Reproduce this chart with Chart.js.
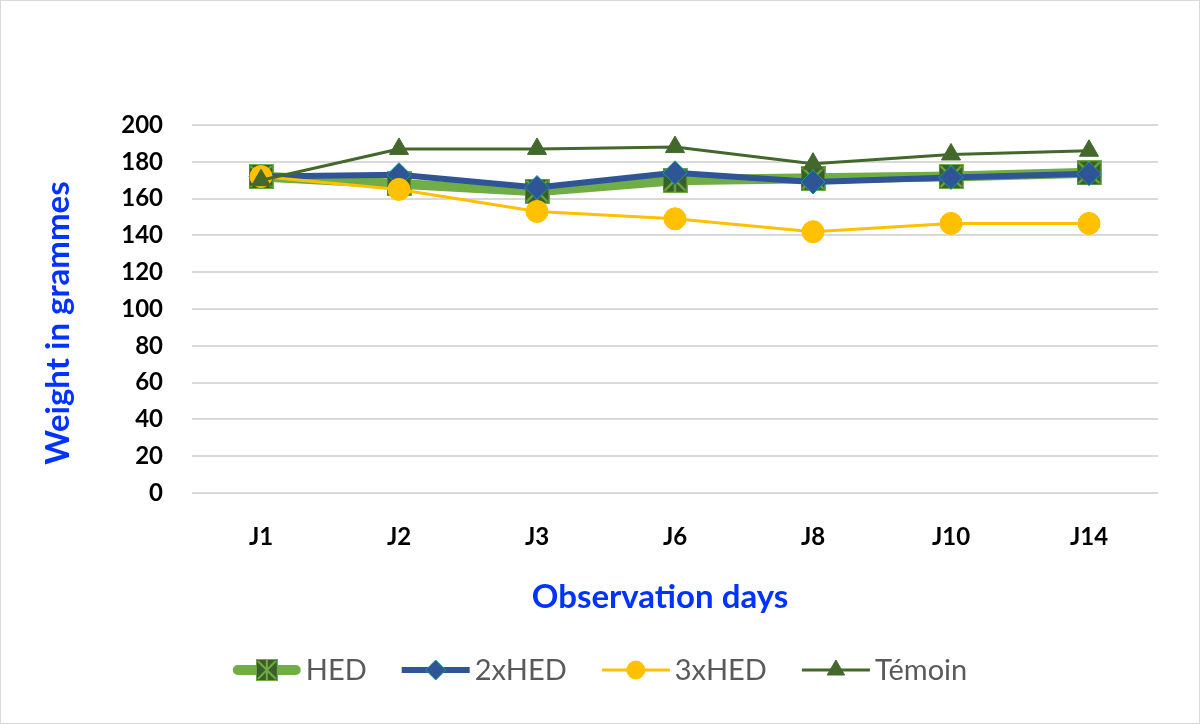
<!DOCTYPE html>
<html>
<head>
<meta charset="utf-8">
<script src="https://cdn.jsdelivr.net/npm/chart.js@4.4.1/dist/chart.umd.min.js"></script>
<style>
  html, body { margin: 0; padding: 0; background: #fff; }
  canvas { display: block; }
</style>
</head>
<body>
<canvas id="weight-chart" width="1200" height="724"></canvas>
<script>
// data
const days   = ['J1', 'J2', 'J3', 'J6', 'J8', 'J10', 'J14'];
const hed    = [172, 168, 164, 170, 171, 172, 174];
const hed2x  = [172, 173, 166, 174, 169, 171.5, 173.5];
const hed3x  = [172, 165, 153, 149, 142, 146.5, 146.5];
const temoin = [170, 187, 187, 188, 179, 184, 186];
const yTicks = [0, 20, 40, 60, 80, 100, 120, 140, 160, 180, 200];

const xTitle = 'Observation days';
const yTitle = 'Weight in grammes';
const TITLE_BLUE = '#0033ff';

// square marker with an asterisk, like the Excel "star" marker
function starMarker(size) {
  const c = document.createElement('canvas');
  c.width = size; c.height = size;
  const g = c.getContext('2d');
  g.fillStyle = '#3b5e26';
  g.fillRect(0, 0, size, size);
  g.strokeStyle = '#70ad47';
  g.lineWidth = 1;
  g.strokeRect(0.5, 0.5, size - 1, size - 1);
  g.lineWidth = 2;
  g.beginPath();
  g.moveTo(2, 2); g.lineTo(size - 2, size - 2);
  g.moveTo(size - 2, 2); g.lineTo(2, size - 2);
  g.moveTo(size / 2, 1); g.lineTo(size / 2, size - 1);
  g.stroke();
  return c;
}

const frame = {
  id: 'frame',
  beforeDraw(chart) {
    const ctx = chart.ctx;
    ctx.save();
    ctx.fillStyle = '#fff';
    ctx.fillRect(0, 0, chart.width, chart.height);
    ctx.strokeStyle = '#d9d9d9';
    ctx.lineWidth = 1;
    ctx.strokeRect(0.5, 0.5, chart.width - 1, chart.height - 1);
    ctx.restore();
  }
};

// axis titles placed where Excel put them (not quite centred on the plot)
const axisTitles = {
  id: 'axisTitles',
  afterDraw(chart) {
    const ctx = chart.ctx;
    ctx.save();
    ctx.fillStyle = TITLE_BLUE;
    ctx.font = 'bold 33px Lato';
    ctx.textAlign = 'center';
    ctx.textBaseline = 'middle';
    ctx.fillText(xTitle, 660, 597);
    ctx.translate(58, 323);
    ctx.rotate(-Math.PI / 2);
    ctx.fillText(yTitle, 0, 0);
    ctx.restore();
  }
};

const bottomLegend = {
  id: 'bottomLegend',
  afterDraw(chart) {
    const ctx = chart.ctx;
    const lineLen = 68, textGap = 5, itemGap = 35, y = 670;
    ctx.save();
    ctx.font = '29px Lato';
    const items = chart.data.datasets
      .slice()
      .sort(function(a, b) { return b.order - a.order; })
      .map(function(ds) { return { ds: ds, w: ctx.measureText(ds.label).width }; });
    const total = items.reduce(function(s, it) { return s + lineLen + textGap + it.w; }, 0) + itemGap * (items.length - 1);
    let x = chart.width / 2 - total / 2;
    items.forEach(function(it) {
      const ds = it.ds;
      ctx.strokeStyle = ds.borderColor;
      ctx.lineWidth = ds.borderWidth;
      ctx.lineCap = ds.legendCap;
      const inset = ds.legendCap === 'round' ? ds.borderWidth / 2 : 0;
      ctx.beginPath();
      ctx.moveTo(x + inset, y);
      ctx.lineTo(x + lineLen - inset, y);
      ctx.stroke();

      ctx.fillStyle = ds.pointBackgroundColor;
      ctx.strokeStyle = ds.pointBorderColor;
      ctx.lineWidth = ds.pointBorderWidth;
      Chart.helpers.drawPoint(ctx, {
        pointStyle: ds.legendPointStyle,
        radius: ds.legendRadius,
        borderWidth: ds.pointBorderWidth,
        rotation: 0
      }, x + lineLen / 2, y);

      ctx.fillStyle = '#595959';
      ctx.textBaseline = 'middle';
      ctx.textAlign = 'left';
      ctx.fillText(ds.label, x + lineLen + textGap, y + 1);
      x += lineLen + textGap + it.w + itemGap;
    });
    ctx.restore();
  }
};

const ctx = document.getElementById('weight-chart').getContext('2d');
const chart = new Chart(ctx, {
  type: 'line',
  data: {
    labels: days,
    datasets: [{
      label: 'HED',
      data: hed,
      order: 4,
      borderColor: '#70ad47',
      borderWidth: 10,
      borderJoinStyle: 'round',
      borderCapStyle: 'round',
      pointStyle: starMarker(25),
      pointRadius: 12,
      pointBackgroundColor: '#3b5e26',
      pointBorderColor: '#70ad47',
      pointBorderWidth: 1,
      legendPointStyle: starMarker(22),
      legendRadius: 11,
      legendCap: 'round'
    }, {
      label: '2xHED',
      data: hed2x,
      order: 3,
      borderColor: '#2f5597',
      borderWidth: 6,
      borderJoinStyle: 'round',
      pointStyle: 'rectRot',
      pointRadius: 12,
      pointBackgroundColor: '#2f5597',
      pointBorderColor: '#14a08a',
      pointBorderWidth: 1,
      legendPointStyle: 'rectRot',
      legendRadius: 10,
      legendCap: 'butt'
    }, {
      label: '3xHED',
      data: hed3x,
      order: 2,
      borderColor: '#ffc000',
      borderWidth: 3,
      borderJoinStyle: 'round',
      pointStyle: 'circle',
      pointRadius: 11,
      pointBackgroundColor: '#ffc000',
      pointBorderColor: '#ffc000',
      pointBorderWidth: 1,
      legendPointStyle: 'circle',
      legendRadius: 9,
      legendCap: 'butt'
    }, {
      label: 'Témoin',
      data: temoin,
      order: 1,
      borderColor: '#43682b',
      borderWidth: 3,
      borderJoinStyle: 'round',
      pointStyle: 'triangle',
      pointRadius: 11,
      pointBackgroundColor: '#43682b',
      pointBorderColor: '#43682b',
      pointBorderWidth: 1,
      legendPointStyle: 'triangle',
      legendRadius: 10,
      legendCap: 'butt'
    }]
  },
  options: {
    responsive: false,
    animation: false,
    devicePixelRatio: 1,
    layout: { padding: { top: 125, right: 42, bottom: 100, left: 0 } },
    plugins: {
      legend: { display: false },
      tooltip: { enabled: false }
    },
    scales: {
      x: {
        offset: true,
        grid: { display: false },
        border: { display: false },
        ticks: { color: '#000', padding: 22, font: { family: 'Lato', size: 24, weight: 'bold' } },
        afterFit: function(scale) { scale.height = 724 - 493 - 100; }
      },
      y: {
        min: 0,
        max: 200,
        afterBuildTicks: function(scale) {
          scale.ticks = yTicks.map(function(v) { return { value: v }; });
        },
        grid: { color: '#d9d9d9', lineWidth: 2, drawTicks: false },
        border: { display: false },
        ticks: { color: '#000', padding: 29, font: { family: 'Lato', size: 24, weight: 'bold' } },
        afterFit: function(scale) { scale.width = 192; }
      }
    }
  },
  plugins: [frame, axisTitles, bottomLegend]
});
</script>
</body>
</html>
